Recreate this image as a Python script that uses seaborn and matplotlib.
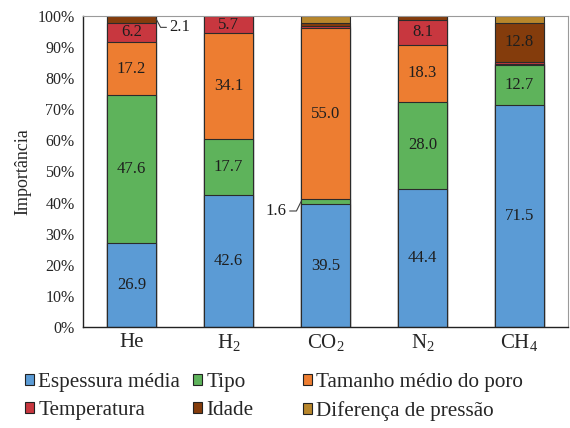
import numpy as np
import pandas as pd
import matplotlib; matplotlib.use('Agg')
import matplotlib.pyplot as plt
from matplotlib.patches import Patch
from matplotlib.ticker import PercentFormatter
import seaborn as sns

# Data (percent contribution per gas)
gases = ['He', 'H$_\\mathregular{2}$', 'CO$_\\mathregular{2}$',
         'N$_\\mathregular{2}$', 'CH$_\\mathregular{4}$']
espessura = [26.9, 42.6, 39.5, 44.4, 71.5]
tipo      = [47.6, 17.7, 1.6, 28.0, 12.7]
tamanho   = [17.2, 34.1, 55.0, 18.3, 0.4]
temperat  = [6.2, 5.7, 0.6, 8.1, 0.5]
idade     = [2.1, 0.0, 1.2, 1.2, 12.8]
diferenca = [0.0, 0.0, 2.1, 0.0, 2.1]

series_names = ['Espessura média', 'Tipo', 'Tamanho médio do poro',
                'Temperatura', 'Idade', 'Diferença de pressão']
series_vals = [espessura, tipo, tamanho, temperat, idade, diferenca]
colors = ['#5B9BD5', '#5EB35B', '#ED7D31', '#C8373F', '#843C0C', '#B8862B']

sns.set_style('white')
plt.rcParams['font.family'] = ['Liberation Serif', 'DejaVu Serif']
plt.rcParams['mathtext.fontset'] = 'custom'
plt.rcParams['mathtext.rm'] = 'Liberation Serif'

df = pd.DataFrame(dict(zip(series_names, series_vals)), index=gases)
cum = df.cumsum(axis=1)

fig = plt.figure(figsize=(5.7, 4.28), dpi=100)
ax = fig.add_axes([0.1456, 0.236, 0.851, 0.7266])

# draw cumulative totals from the top series down so each layer covers the next
for name, col in zip(series_names[::-1], colors[::-1]):
    sns.barplot(x=gases, y=cum[name].values, color=col, saturation=1,
                width=0.505, edgecolor='#2b2b2b', linewidth=0.8,
                errorbar=None, ax=ax)

# segment labels
for i, g in enumerate(gases):
    for name in series_names:
        v = df.loc[g, name]
        if v >= 5:
            mid = cum.loc[g, name] - v / 2
            ax.text(i, mid, f'{v:.1f}', ha='center', va='center',
                    fontsize=12, color='#1e1e1e')

# small segments with leader lines
i = 0
y = cum.iloc[i]['Idade'] - df.iloc[i]['Idade'] / 2
ax.plot([i + 0.2525, i + 0.30, i + 0.36], [y + 0.2, y - 2.6, y - 2.6],
        color='#404040', lw=0.8, clip_on=False)
ax.text(i + 0.39, y - 2.6, '2.1', ha='left', va='center', fontsize=12, color='#1e1e1e')

i = 2
y = cum.iloc[i]['Tipo'] - df.iloc[i]['Tipo'] / 2
ax.plot([i - 0.2525, i - 0.30, i - 0.37], [y, y - 3.0, y - 3.0],
        color='#404040', lw=0.8, clip_on=False)
ax.text(i - 0.40, y - 3.0, '1.6', ha='right', va='center', fontsize=12, color='#1e1e1e')

ax.set_ylim(0, 100)
ax.set_xlim(-0.5, 4.5)
ax.set_yticks(np.arange(0, 101, 10))
ax.yaxis.set_major_formatter(PercentFormatter(decimals=0))
ax.tick_params(axis='y', labelsize=11.5, length=0, pad=6)
ax.tick_params(axis='x', labelsize=15, length=0, pad=4)
ax.set_ylabel('Importância', fontsize=13, labelpad=4)
for s in ['left', 'bottom']:
    ax.spines[s].set_color('#222222')
    ax.spines[s].set_linewidth(1.0)
for s in ['top', 'right']:
    ax.spines[s].set_color('#9a9a9a')
    ax.spines[s].set_linewidth(0.8)

# legend: three fixed-position columns, two rows each
handles = [Patch(facecolor=c, edgecolor='#222222', linewidth=0.8) for c in colors]
col_x = [0.044, 0.339, 0.532]
for c, x in enumerate(col_x):
    idx = [c, c + 3]
    leg = fig.legend([handles[k] for k in idx], [series_names[k] for k in idx],
                     loc='upper left', bbox_to_anchor=(x, 0.128), ncol=1,
                     frameon=False, fontsize=15.2, handlelength=0.42,
                     handleheight=0.42, handletextpad=0.2, borderaxespad=0,
                     borderpad=0, labelspacing=0.42)

fig.savefig('out.png', dpi=100)
plt.close(fig)
